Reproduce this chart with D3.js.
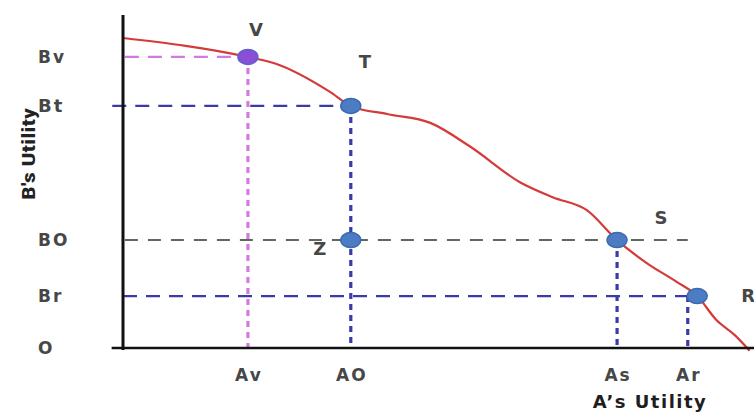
<!DOCTYPE html>
<html>
<head>
<meta charset="utf-8">
<script src="https://cdn.jsdelivr.net/npm/d3@7"></script>
<style>
  html, body { margin: 0; padding: 0; background: #fff; }
  svg { display: block; }
  .lbl { font-family: "DejaVu Sans", Verdana, sans-serif; font-weight: bold; fill: #474747; letter-spacing: 2px; }
</style>
</head>
<body>
<svg id="chart" width="754" height="413"></svg>
<script>
// Utility possibility frontier between A and B (abstract utility units 0-100)
const curveA = [0, 19.8, 24.0, 32.8, 36.1, 42.0, 48.7, 55.0, 62.9, 68.1, 73.5, 78.3, 83.0, 87.8, 91.0, 94.0, 97.0, 99.3];
const curveB = [93.1, 87.4, 85.5, 76.9, 72.7, 70.2, 67.6, 60.5, 49.8, 45.3, 41.4, 32.4, 25.5, 19.8, 15.6, 8.5, 3.8, -0.8];

// Named allocations
const pointNames = ["V", "T", "Z", "S", "R"];
const pointA = [19.8, 36.1, 36.1, 78.3, 91.0];
const pointB = [87.4, 72.7, 32.4, 32.4, 15.6];

// Axis tick labels
const yTickLabels = ["Bv", "Bt", "BO", "Br", "O"];
const yTickValues = [87.4, 72.7, 32.4, 15.6, 0];
const xTickLabels = ["Av", "AO", "As", "Ar"];
const xTickValues = [19.8, 36.1, 78.3, 89.5];

const svg = d3.select("#chart");
const x = d3.scaleLinear().domain([0, 100]).range([123, 754]);
const y = d3.scaleLinear().domain([0, 100]).range([348, 15]);

const P = {};
pointNames.forEach((n, i) => P[n] = { a: pointA[i], b: pointB[i] });

// Guide lines
const guides = svg.append("g").attr("fill", "none");
function hLine(a0, a1, b, color, dash, w) {
  guides.append("line")
    .attr("x1", x(a0)).attr("x2", x(a1)).attr("y1", y(b)).attr("y2", y(b))
    .attr("stroke", color).attr("stroke-width", w).attr("stroke-dasharray", dash);
}
function vLine(a, b0, b1, color, dash, w) {
  guides.append("line")
    .attr("x1", x(a)).attr("x2", x(a)).attr("y1", y(b0)).attr("y2", y(b1))
    .attr("stroke", color).attr("stroke-width", w).attr("stroke-dasharray", dash);
}
const magenta = "#d27ae0", blue = "#3a3aa8", olive = "#5c6a5c";
hLine(0.3, P.V.a, P.V.b, magenta, "14 9", 2.2);
hLine(-1.7, P.T.a, P.T.b, blue, "14 9", 2.2);
hLine(0.3, 89.5, P.S.b, olive, "13 10", 2);
hLine(0, P.R.a, P.R.b, blue, "14 9", 2.2);
vLine(P.V.a, P.V.b, 0, magenta, "6 5", 3.2);
vLine(P.T.a, P.T.b, 0, blue, "6 5", 3.2);
vLine(P.S.a, P.S.b, 0, blue, "6 5", 3.2);
vLine(xTickValues[3], P.R.b, 0, blue, "6 5", 3.2);

// Frontier curve
const line = d3.line().x(d => x(d)).y((d, i) => y(curveB[i])).curve(d3.curveMonotoneX);
svg.append("path").datum(curveA)
  .attr("d", line)
  .attr("fill", "none")
  .attr("stroke", "#d43a3a")
  .attr("stroke-width", 2.2);

// Axes
svg.append("line").attr("x1", x(0)).attr("x2", x(0)).attr("y1", y(100)).attr("y2", y(-0.6))
  .attr("stroke", "#111").attr("stroke-width", 3);
svg.append("line").attr("x1", x(-1.8)).attr("x2", x(100)).attr("y1", y(0)).attr("y2", y(0))
  .attr("stroke", "#111").attr("stroke-width", 2.6);

// Points
svg.append("g").selectAll("ellipse").data(pointNames).join("ellipse")
  .attr("cx", n => x(P[n].a)).attr("cy", n => y(P[n].b))
  .attr("rx", 10).attr("ry", 7.5)
  .attr("fill", n => n === "V" ? "#8a4fd6" : "#4b7cc4")
  .attr("stroke", n => n === "V" ? "#5a63c8" : "#3c6aae")
  .attr("stroke-width", 1.5);

// Point labels
const pointLabelPos = { V: [8, -27], T: [14, -44], Z: [-31, 8], S: [44, -23], R: [51, -1] };
svg.append("g").selectAll("text").data(pointNames).join("text")
  .attr("class", "lbl")
  .attr("x", n => x(P[n].a) + pointLabelPos[n][0])
  .attr("y", n => y(P[n].b) + pointLabelPos[n][1])
  .attr("text-anchor", "middle").attr("dominant-baseline", "central")
  .attr("font-size", 18).style("letter-spacing", "0px")
  .text(n => n);

// Y tick labels
svg.append("g").selectAll("text").data(yTickLabels).join("text")
  .attr("class", "lbl")
  .attr("x", 38)
  .attr("y", (d, i) => y(yTickValues[i]))
  .attr("dominant-baseline", "central")
  .attr("font-size", (d, i) => d === "Bt" ? 18 : 17)
  .text(d => d);

// X tick labels
svg.append("g").selectAll("text").data(xTickLabels).join("text")
  .attr("class", "lbl")
  .attr("x", (d, i) => x(xTickValues[i]) + 1)
  .attr("y", 375)
  .attr("text-anchor", "middle").attr("dominant-baseline", "central")
  .attr("font-size", 17)
  .text(d => d);

// Axis titles
svg.append("text")
  .attr("transform", "translate(28,154) rotate(-90)")
  .attr("text-anchor", "middle").attr("dominant-baseline", "central")
  .attr("font-family", "'Liberation Sans Narrow', 'Roboto Condensed', 'Liberation Sans', sans-serif")
  .attr("font-weight", "bold").attr("font-size", 19).attr("fill", "#222")
  .attr("textLength", 92).attr("lengthAdjust", "spacingAndGlyphs")
  .text("B's Utility");
svg.append("text")
  .attr("class", "lbl")
  .attr("x", 650).attr("y", 401)
  .attr("text-anchor", "middle").attr("dominant-baseline", "central")
  .attr("font-size", 18).style("fill", "#1e1e1e").style("letter-spacing", "1.5px")
  .text("A’s Utility");
</script>
</body>
</html>
